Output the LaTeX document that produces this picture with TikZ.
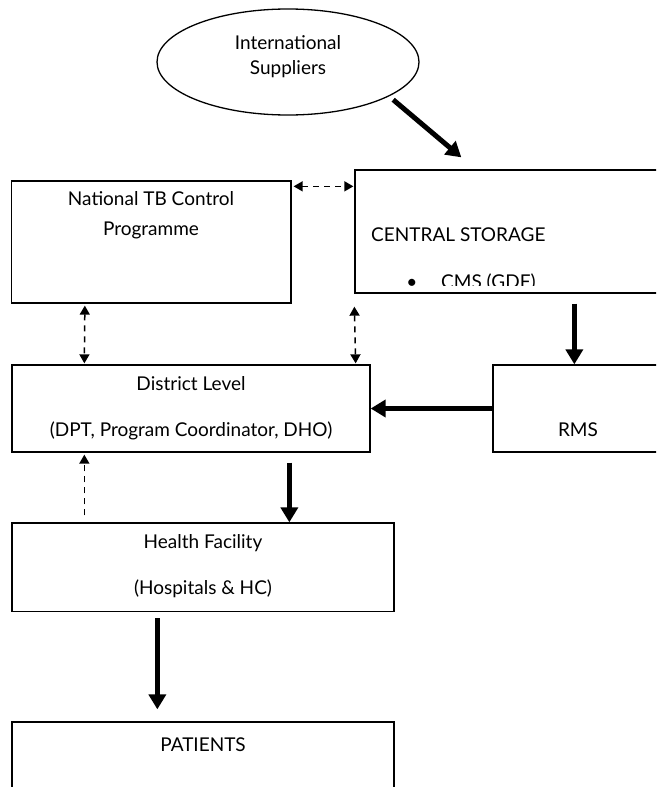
\documentclass[tikz,border=0pt]{standalone}
\usepackage{fontspec}
\setmainfont{Lato}
\usetikzlibrary{shapes.geometric,arrows.meta}

\begin{document}
\begin{tikzpicture}[x=1pt,y=-1pt,
  box/.style={draw, line width=1.3pt, inner sep=0pt, rectangle},
  oval/.style={draw, line width=1.3pt, inner sep=0pt, ellipse},
  lbl/.style={inner sep=0pt, font=\fontsize{19}{23}\selectfont},
  bigarrow/.style={line width=5pt, -{Triangle[width=17pt,length=15pt]}},
  dasharrow/.style={line width=1.5pt, dash pattern=on 6pt off 5pt,
    {Triangle[width=10pt,length=9pt]}-{Triangle[width=10pt,length=9pt]}},
  updash/.style={line width=1.5pt, dash pattern=on 6pt off 5pt,
    -{Triangle[width=10pt,length=9pt]}},
]
\useasboundingbox (0,0) rectangle (656,787);
\clip (0,0) rectangle (656,787);

% supplier and storage nodes
\node[oval, minimum width=262, minimum height=106] (sup) at (288,62) {};
\node[box, minimum width=279.5, minimum height=122] (nat) at (151.25,242) {};
\node[box, minimum width=320, minimum height=123] (cs) at (515,231.5) {};
\node[box, minimum width=358, minimum height=87] (dist) at (191,408.5) {};
\node[box, minimum width=180, minimum height=87] (rms) at (583,408.5) {};
\node[box, minimum width=382, minimum height=88.5] (hf) at (203,567.25) {};
\node[box, minimum width=382, minimum height=100] (pat) at (203,772) {};

% labels
\node[lbl, anchor=base] (t1) at (288,49) {International};
\node[lbl, anchor=base] (t2) at (288,74) {Suppliers};
\node[lbl, anchor=base] (t3) at (151,205) {National TB Control};
\node[lbl, anchor=base] (t4) at (151,235) {Programme};
\node[lbl, anchor=base west] (t5) at (371,241) {CENTRAL STORAGE};
\begin{scope}
  \clip (356,260) rectangle (654,285.5);
  \node[lbl, anchor=base] (t6) at (412,288) {•};
  \node[lbl, anchor=base west] (t7) at (441,288) {CMS (GDF)};
\end{scope}
\node[lbl, anchor=base] (t8) at (191,390) {District Level};
\node[lbl, anchor=base] (t9) at (191,436) {(DPT, Program Coordinator, DHO)};
\node[lbl, anchor=base] (t10) at (578,436) {RMS};
\node[lbl, anchor=base] (t11) at (203,548) {Health Facility};
\node[lbl, anchor=base] (t12) at (203,594) {(Hospitals \& HC)};
\node[lbl, anchor=base] (t13) at (203,751) {PATIENTS};

% supply flow
\draw[bigarrow] ([shift={(7,2)}]sup.-20.5) -- ([shift={(107,-12)}]cs.north west);
\draw[bigarrow] ([shift={(220,10)}]cs.south west) -- ([shift={(82,0)}]rms.north west);
\draw[bigarrow] (rms.west) -- (dist.east);
\draw[bigarrow] ([shift={(278,10)}]dist.south west) -- ([shift={(278,0)}]hf.north west);
\draw[bigarrow] ([shift={(146,6)}]hf.south west) -- ([shift={(146,-12)}]pat.north west);

% information flow
\draw[dasharrow] ([shift={(2,6)}]nat.north east) -- ([shift={(-1,17)}]cs.north west);
\draw[dasharrow] ([shift={(74,2)}]nat.south west) -- ([shift={(73,-1)}]dist.north west);
\draw[dasharrow] ([shift={(0,13)}]cs.south west) -- ([shift={(-15,-1)}]dist.north east);
\draw[updash] ([shift={(73,-7)}]hf.north west) -- ([shift={(73,2)}]dist.south west);
\end{tikzpicture}
\end{document}
